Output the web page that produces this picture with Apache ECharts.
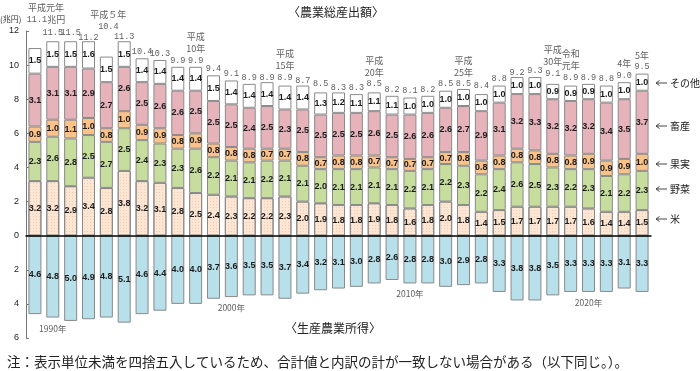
<!DOCTYPE html>
<html><head><meta charset="utf-8">
<script src="https://cdn.jsdelivr.net/npm/echarts@6/dist/echarts.min.js"></script>
<style>html,body{margin:0;padding:0;background:#fff}#c{width:700px;height:371px}</style>
</head><body><div id="c"></div>
<script>
const categories = ['1989','1990','1991','1992','1993','1994','1995','1996','1997','1998','1999','2000','2001','2002','2003','2004','2005','2006','2007','2008','2009','2010','2011','2012','2013','2014','2015','2016','2017','2018','2019','2020','2021','2022','2023'];
const rice      = [3.2,3.2,2.9,3.4,2.8,3.8,3.2,3.1,2.8,2.5,2.4,2.3,2.2,2.2,2.3,2.0,1.9,1.8,1.8,1.9,1.8,1.6,1.8,2.0,1.8,1.4,1.5,1.7,1.7,1.7,1.7,1.6,1.4,1.4,1.5];
const vegetables= [2.3,2.6,2.8,2.5,2.7,2.5,2.4,2.3,2.3,2.6,2.2,2.1,2.1,2.2,2.1,2.1,2.0,2.1,2.1,2.1,2.1,2.2,2.1,2.2,2.3,2.2,2.4,2.6,2.5,2.3,2.2,2.3,2.1,2.2,2.3];
const fruit     = [0.9,1.0,1.1,1.0,0.8,1.0,0.9,0.9,0.8,0.9,0.8,0.8,0.8,0.7,0.7,0.8,0.7,0.8,0.8,0.7,0.7,0.7,0.7,0.7,0.8,0.8,0.8,0.8,0.8,0.8,0.8,0.9,0.9,0.9,1.0];
const livestock = [3.1,3.1,3.1,2.9,2.7,2.6,2.5,2.6,2.6,2.5,2.5,2.5,2.4,2.5,2.3,2.5,2.5,2.5,2.5,2.6,2.5,2.6,2.6,2.6,2.7,2.9,3.1,3.2,3.3,3.2,3.2,3.2,3.4,3.5,3.7];
const other     = [1.5,1.5,1.5,1.6,1.5,1.5,1.4,1.4,1.4,1.4,1.5,1.4,1.4,1.4,1.4,1.4,1.3,1.2,1.1,1.1,1.1,1.0,1.0,1.0,1.0,1.0,1.0,1.0,1.0,0.9,0.9,0.9,1.0,1.0,1.0];
const totalOutput=[11.1,11.5,11.5,11.2,10.4,11.3,10.4,10.3,9.9,9.9,9.4,9.1,8.9,8.9,8.9,8.7,8.5,8.3,8.3,8.5,8.2,8.1,8.2,8.5,8.5,8.4,8.8,9.2,9.3,9.1,8.9,8.9,8.8,9.0,9.5];
const income    = [4.6,4.8,5.0,4.9,4.8,5.1,4.6,4.4,4.0,4.0,3.7,3.6,3.5,3.5,3.7,3.4,3.2,3.1,3.0,2.8,2.6,2.8,2.8,3.0,2.9,2.8,3.3,3.8,3.8,3.5,3.3,3.3,3.3,3.1,3.3];
const eraIndex  = [0,4,9,14,19,24,29,30,33,34];
const eraText   = ['平成元年','平成５年','平成\n10年','平成\n15年','平成\n20年','平成\n25年','平成\n30年','令和\n元年','4年','5年'];
const arrowIndex= [0,4];
const decadeIndex=[1,11,21,31];
const decadeText= ['1990年','2000年','2010年','2020年'];

// layout for the two arrow annotations (pixel distance/offset of label, arrow start/end offsets in axis units)
const arrowLayout = {0:{dist:20, dx:11, from:1.38, to:0.15}, 4:{dist:25, dx:2, from:1.8, to:0.38}};

const chart = echarts.init(document.getElementById('c'), null, {renderer:'canvas'});
const border = {borderColor:'#8a8a8a', borderWidth:1};
const inLabel = {show:true, position:'inside', fontFamily:'Liberation Sans, Arial', fontSize:9, fontWeight:'bold', color:'#1a1a1a', formatter:p=>Math.abs(p.value).toFixed(1)};
function stackSeries(name, data, color, extra){
  return Object.assign({name, type:'bar', stack:'out', data, barWidth:13,
    itemStyle:Object.assign({color}, border), label:inLabel, emphasis:{disabled:true}}, extra||{});
}
const totalData = totalOutput.map((v,i)=>{
  const k = eraIndex.indexOf(i);
  let txt = '';
  if (k>=0) txt = eraText[k].split('\n').map(s=>'{era|'+s+'}').join('\n')+'\n';
  txt += '{tot|'+v.toFixed(1)+'}' + (i===0?'{era|兆円}':'');
  const item = {value:v, label:{formatter:txt}};
  if (arrowLayout[i]) { item.label.distance = arrowLayout[i].dist; item.label.offset = [arrowLayout[i].dx, 0]; }
  return item;
});
const decadeData = categories.map((c,i)=>{
  const k = decadeIndex.indexOf(i);
  return k>=0 ? {value:-income[i], label:{formatter:decadeText[k]}} : '-';
});
const arrows = arrowIndex.map(i=>[
  {coord:[categories[i], totalOutput[i]+arrowLayout[i].from], symbol:'none'},
  {coord:[categories[i], totalOutput[i]+arrowLayout[i].to], symbol:'arrow'}
]);

chart.setOption({
  animation:false,
  grid:{left:26, right:49, top:31, bottom:33},
  xAxis:{type:'category', data:categories, axisLine:{onZero:true, lineStyle:{color:'#000', width:1.5}},
    axisTick:{show:false}, axisLabel:{show:false}, z:10},
  yAxis:{type:'value', min:-6, max:12, interval:2,
    axisLine:{show:true, lineStyle:{color:'#777'}}, axisTick:{show:true, inside:true, length:3, lineStyle:{color:'#777'}},
    splitLine:{show:false},
    axisLabel:{fontFamily:'Liberation Sans, Arial', fontSize:9, color:'#222', margin:7, formatter:v=>String(Math.abs(v))}},
  series:[
    stackSeries('米', rice, '#fde6d4', {itemStyle:Object.assign({color:'#fde6d4',
      decal:{symbol:'rect', symbolSize:1, dashArrayX:[1,2], dashArrayY:[1,2], color:'rgba(232,170,130,0.45)'}}, border)}),
    stackSeries('野菜', vegetables, '#c6dd9e'),
    stackSeries('果実', fruit, '#fbc28a'),
    stackSeries('畜産', livestock, '#e7b3bb'),
    stackSeries('その他', other, '#ffffff'),
    {name:'生産農業所得', type:'bar', stack:'inc', data:income.map(v=>-v), barWidth:13, barGap:'-100%',
      itemStyle:Object.assign({color:'#b8e0ea'}, border), label:inLabel, emphasis:{disabled:true}},
    {name:'total', type:'scatter', data:totalData, symbolSize:1, itemStyle:{color:'rgba(0,0,0,0)'}, silent:true,
      label:{show:true, position:'top', distance:0, color:'#333', lineHeight:12,
        rich:{era:{fontFamily:'Noto Sans CJK JP', fontSize:9, lineHeight:12, color:'#333'},
              tot:{fontFamily:'Liberation Mono, DejaVu Sans Mono', fontSize:8.5, lineHeight:12, color:'#333'}}},
      markLine:{silent:true, symbolSize:[5,6], label:{show:false}, lineStyle:{color:'#444', width:1, type:'solid'}, data:arrows}},
    {name:'decade', type:'scatter', data:decadeData, symbolSize:1, itemStyle:{color:'rgba(0,0,0,0)'}, silent:true,
      label:{show:true, position:'bottom', distance:6, fontFamily:'Noto Sans CJK JP', fontSize:8.5, color:'#333'}}
  ],
  graphic:[
    {type:'text', left:0, top:15, style:{text:'(兆円)', font:'8px "Noto Sans CJK JP"', fill:'#333'}},
    {type:'text', x:336, y:12, style:{text:'〈農業総産出額〉', font:'12px "Noto Sans CJK JP"', fill:'#222', align:'center', verticalAlign:'middle'}},
    {type:'text', x:333, y:328, style:{text:'〈生産農業所得〉', font:'12px "Noto Sans CJK JP"', fill:'#222', align:'center', verticalAlign:'middle'}},
    {type:'text', x:7, y:362, style:{text:'注：表示単位未満を四捨五入しているため、合計値と内訳の計が一致しない場合がある（以下同じ。）。', font:'13.5px "Noto Sans CJK JP"', fill:'#222', verticalAlign:'middle'}},
  ].concat([['その他',83],['畜産',126],['果実',164],['野菜',189],['米',219]].flatMap(([t,y])=>[
    {type:'line', shape:{x1:656, y1:y, x2:667, y2:y}, style:{stroke:'#444', lineWidth:1}},
    {type:'polyline', shape:{points:[[659.5,y-2.5],[656,y],[659.5,y+2.5]]}, style:{stroke:'#444', lineWidth:1, fill:null}},
    {type:'text', x:670, y:y, style:{text:t, font:'10px "Noto Sans CJK JP"', fill:'#222', verticalAlign:'middle'}}
  ]))
});
</script></body></html>
